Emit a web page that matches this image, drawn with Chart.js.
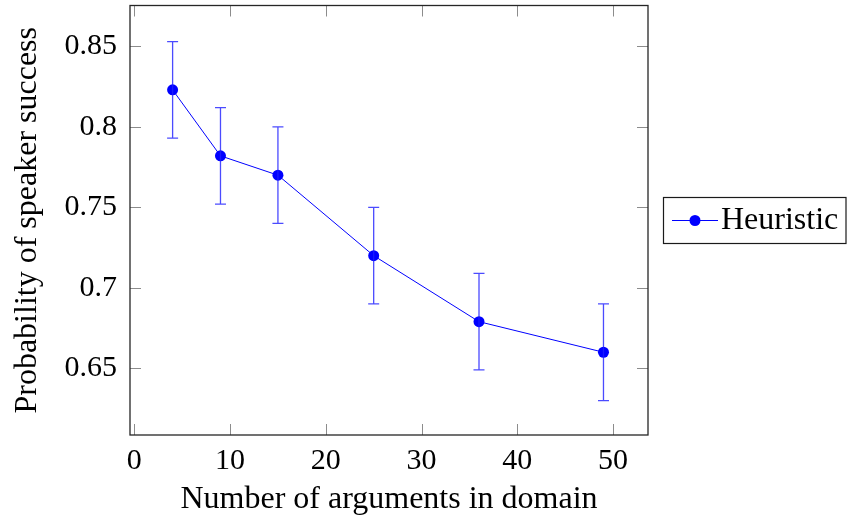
<!DOCTYPE html>
<html>
<head>
<meta charset="utf-8">
<script src="https://cdn.jsdelivr.net/npm/chart.js@4.4.1/dist/chart.umd.min.js"></script>
<style>
  html, body { margin: 0; padding: 0; background: #ffffff; }
  #wrap { width: 847px; height: 521px; }
</style>
</head>
<body>
<div id="wrap"><canvas id="chart" width="847" height="521"></canvas></div>
<script>
// Domain sizes and measured speaker success rates
const argumentCounts = [4, 9, 15, 25, 36, 49];
const successRate = [0.823, 0.782, 0.770, 0.720, 0.679, 0.660];
const errorHalfWidth = [0.030, 0.030, 0.030, 0.030, 0.030, 0.030];

const seriesName = 'Heuristic';
const xTickValues = [0, 10, 20, 30, 40, 50];
const yTickValues = [0.65, 0.70, 0.75, 0.80, 0.85];

const xTitle = 'Number of arguments in domain';
const yTitle = 'Probability of speaker success';

const SERIF = '"Liberation Serif", "DejaVu Serif", serif';
const BLUE = '#0000ff';
const ERR_BLUE = 'rgba(30, 30, 255, 0.8)';
const TICK_LEN = 11;

// Error bars, inward tick marks, frame and legend box
const decorations = {
  id: 'decorations',
  afterDatasetsDraw(chart) {
    const ctx = chart.ctx;
    const xs = chart.scales.x, ys = chart.scales.y;

    ctx.save();
    ctx.strokeStyle = ERR_BLUE;
    ctx.lineWidth = 1.3;
    const cap = 5.5;
    argumentCounts.forEach((xv, i) => {
      const px = xs.getPixelForValue(xv);
      const hi = ys.getPixelForValue(successRate[i] + errorHalfWidth[i]);
      const lo = ys.getPixelForValue(successRate[i] - errorHalfWidth[i]);
      ctx.beginPath();
      ctx.moveTo(px, hi); ctx.lineTo(px, lo);
      ctx.moveTo(px - cap, hi); ctx.lineTo(px + cap, hi);
      ctx.moveTo(px - cap, lo); ctx.lineTo(px + cap, lo);
      ctx.stroke();
    });
    ctx.restore();
  },
  afterDraw(chart) {
    const ctx = chart.ctx;
    const xs = chart.scales.x, ys = chart.scales.y;
    const a = chart.chartArea;
    ctx.save();
    // inward ticks on all four sides
    ctx.strokeStyle = '#8c8c8c';
    ctx.lineWidth = 1;
    xTickValues.forEach(v => {
      const px = Math.round(xs.getPixelForValue(v)) + 0.5;
      ctx.beginPath();
      ctx.moveTo(px, a.bottom); ctx.lineTo(px, a.bottom - TICK_LEN);
      ctx.moveTo(px, a.top); ctx.lineTo(px, a.top + TICK_LEN);
      ctx.stroke();
    });
    yTickValues.forEach(v => {
      const py = Math.round(ys.getPixelForValue(v)) + 0.5;
      ctx.beginPath();
      ctx.moveTo(a.left, py); ctx.lineTo(a.left + TICK_LEN, py);
      ctx.moveTo(a.right, py); ctx.lineTo(a.right - TICK_LEN, py);
      ctx.stroke();
    });
    // frame
    ctx.strokeStyle = '#262626';
    ctx.lineWidth = 1.3;
    ctx.strokeRect(a.left, a.top, a.right - a.left, a.bottom - a.top);

    // legend
    const bx = 663.5, by = 197.5, bw = 182.5, bh = 46;
    ctx.strokeStyle = '#1a1a1a';
    ctx.lineWidth = 1.2;
    ctx.strokeRect(bx, by, bw, bh);
    const cy = by + bh / 2;
    ctx.strokeStyle = BLUE;
    ctx.lineWidth = 1;
    ctx.beginPath();
    ctx.moveTo(672, cy); ctx.lineTo(718, cy);
    ctx.stroke();
    ctx.fillStyle = BLUE;
    ctx.beginPath();
    ctx.arc(695, cy, 5.5, 0, Math.PI * 2);
    ctx.fill();
    ctx.fillStyle = '#000000';
    ctx.font = '32px ' + SERIF;
    ctx.textBaseline = 'alphabetic';
    ctx.textAlign = 'left';
    ctx.fillText(seriesName, 721, 229);
    ctx.restore();
  }
};

new Chart(document.getElementById('chart'), {
  type: 'line',
  data: {
    datasets: [{
      label: seriesName,
      data: argumentCounts.map((x, i) => ({ x: x, y: successRate[i] })),
      borderColor: BLUE,
      backgroundColor: BLUE,
      borderWidth: 1,
      pointRadius: 5.5,
      pointHoverRadius: 5.5,
      pointBackgroundColor: BLUE,
      pointBorderWidth: 0,
      tension: 0,
      fill: false
    }]
  },
  options: {
    responsive: false,
    animation: false,
    devicePixelRatio: 1,
    layout: { padding: { top: 5, right: 199, left: 0, bottom: 0 } },
    plugins: { legend: { display: false }, tooltip: { enabled: false } },
    scales: {
      x: {
        type: 'linear',
        min: -0.45,
        max: 53.65,
        afterBuildTicks: s => { s.ticks = xTickValues.map(v => ({ value: v })); },
        afterFit: s => { s.height = 86; s.paddingLeft = 0; s.paddingRight = 0; },
        grid: { display: false, drawTicks: false },
        border: { display: false },
        ticks: {
          color: '#000000',
          padding: 8,
          maxRotation: 0,
          font: { family: SERIF, size: 30 },
          callback: v => String(v)
        },
        title: {
          display: true,
          text: xTitle,
          color: '#000000',
          font: { family: SERIF, size: 32 },
          padding: { top: 0, bottom: 2 }
        }
      },
      y: {
        type: 'linear',
        min: 0.6086,
        max: 0.8754,
        afterBuildTicks: s => { s.ticks = yTickValues.map(v => ({ value: v })); },
        afterFit: s => { s.width = 130; s.paddingTop = 0; s.paddingBottom = 0; },
        grid: { display: false, drawTicks: false },
        border: { display: false },
        ticks: {
          color: '#000000',
          padding: 13,
          font: { family: SERIF, size: 30 },
          callback: v => String(parseFloat(v.toFixed(2)))
        },
        title: {
          display: true,
          text: yTitle,
          color: '#000000',
          font: { family: SERIF, size: 32 },
          padding: { top: 8, bottom: 0 }
        }
      }
    }
  },
  plugins: [decorations]
});
</script>
</body>
</html>
